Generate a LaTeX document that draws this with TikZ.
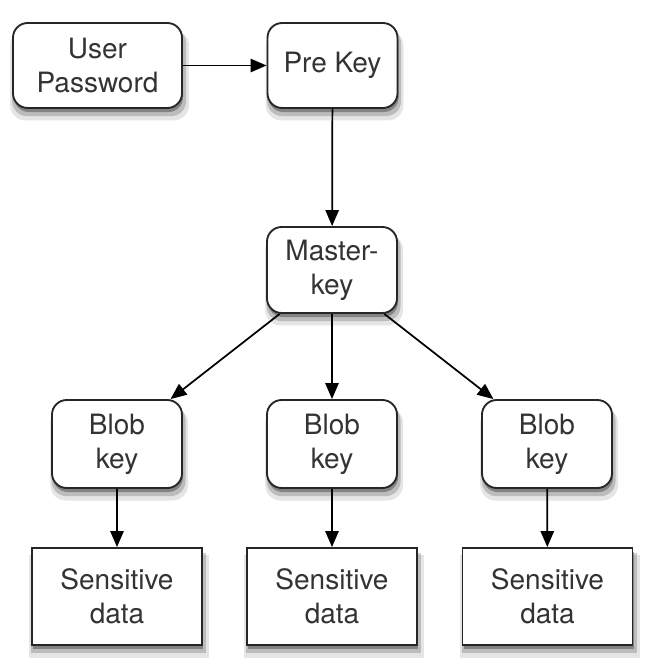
\documentclass[tikz,border=0pt]{standalone}
\usepackage{fontspec}
\setmainfont{TeX Gyre Heros}
\usetikzlibrary{arrows.meta,shadows}

\tikzset{
  softshadow/.style={
    general shadow={fill=black, opacity=.1, shadow xshift=1.5pt, shadow yshift=-7pt, shadow scale=1.06},
    general shadow={fill=black, opacity=.18, shadow xshift=1.2pt, shadow yshift=-5pt, shadow scale=1.03},
    general shadow={fill=black, opacity=.3, shadow xshift=0.8pt, shadow yshift=-3pt}},
  keybox/.style={draw=black!85, line width=1.4pt, fill=white, rounded corners=11pt,
    align=center, text=black!80, font=\fontsize{21}{25.5}\selectfont,
    inner sep=0pt, minimum width=97.5pt, minimum height=64.5pt, softshadow},
  databox/.style={keybox, rounded corners=0pt, minimum width=127.5pt, minimum height=72.75pt},
  link/.style={line width=1.3pt, -{Triangle[length=12pt,width=10pt]}}
}

\begin{document}
\begin{tikzpicture}[x=0.75pt,y=0.75pt,yscale=-1,xscale=1]
	\useasboundingbox (0,0) rectangle (648,665);

	% top row
	\node [keybox, minimum width=126.75pt, minimum height=63.75pt] (user) at (97.5,65.5) {User\\Password};
	\node [keybox, minimum height=63.75pt] (prekey) at (332.5,65.5) {Pre Key};

	% master key
	\node [keybox] (master) at (332,270) {Master-\\key};

	% blob keys
	\node [keybox, minimum height=66pt] (blobL) at (117,444) {Blob\\key};
	\node [keybox, minimum height=66pt] (blobM) at (332,444) {Blob\\key};
	\node [keybox, minimum height=66pt] (blobR) at (547,444) {Blob\\key};

	% sensitive data
	\node [databox] (dataL) at (117,596.5) {Sensitive\\data};
	\node [databox] (dataM) at (332,596.5) {Sensitive\\data};
	\node [databox] (dataR) at (547.5,596.5) {Sensitive\\data};

	% arrows
	\draw [link] (user) -- (prekey);
	\draw [link] (prekey) -- (master);
	\draw [link] (master.-140) -- (blobL.40);
	\draw [link] (master) -- (blobM);
	\draw [link] (master.-40) -- (blobR.140);
	\draw [link] (blobL) -- (dataL);
	\draw [link] (blobM) -- (dataM);
	\draw [link] (blobR) -- (dataR);
\end{tikzpicture}
\end{document}
